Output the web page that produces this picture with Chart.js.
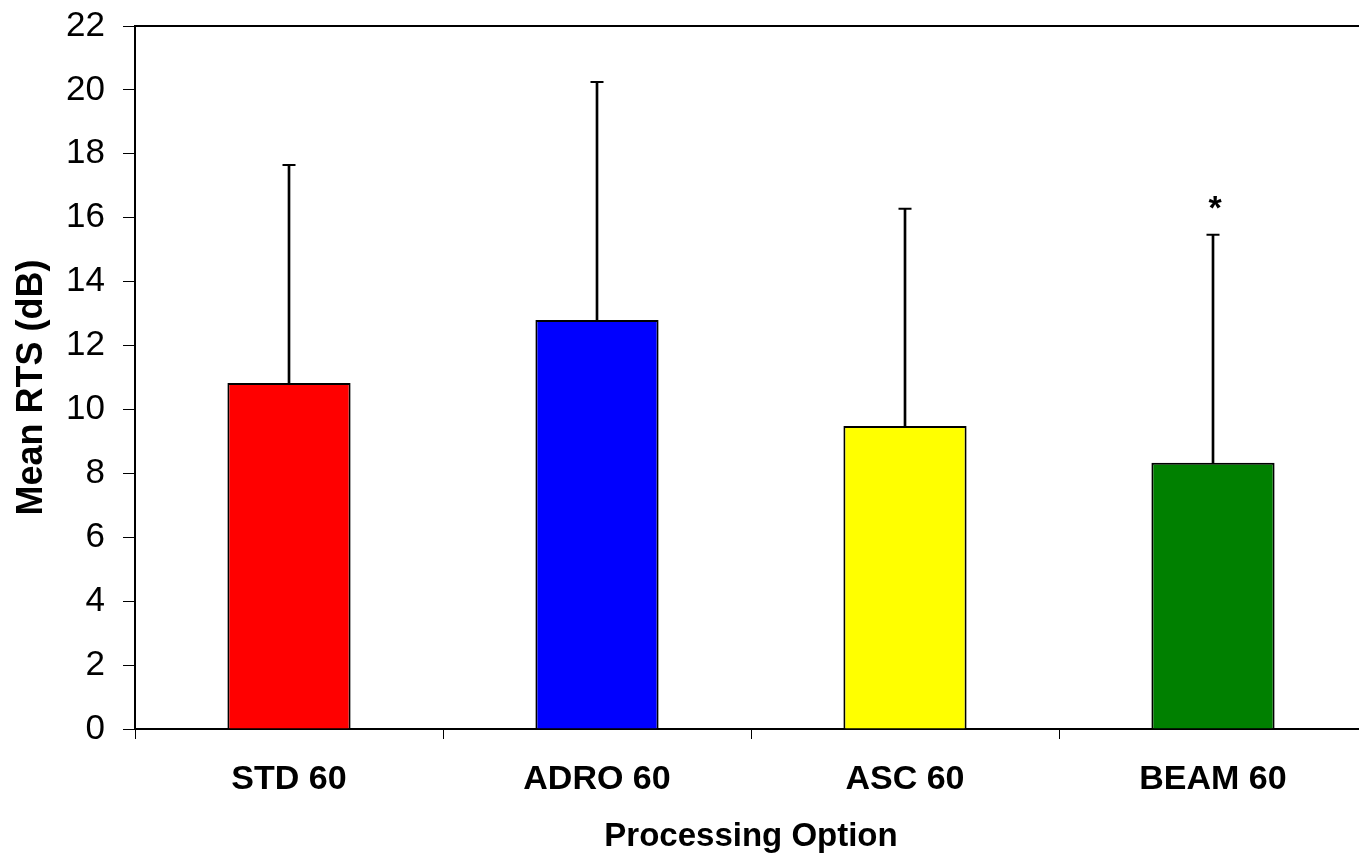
<!DOCTYPE html>
<html>
<head>
<meta charset="utf-8">
<script src="https://cdn.jsdelivr.net/npm/chart.js@4.4.1/dist/chart.umd.min.js"></script>
<style>
  html, body { margin: 0; padding: 0; background: #fff; overflow: hidden; }
  #wrap { position: relative; width: 1380px; height: 854px; }
</style>
</head>
<body>
<div id="wrap"><canvas id="c"></canvas></div>
<script>
const categories = ['STD 60', 'ADRO 60', 'ASC 60', 'BEAM 60'];
const meanRTS = [10.83, 12.80, 9.48, 8.33];
const sdRTS = [6.82, 7.45, 6.80, 7.14];
const barColors = ['#FF0000', '#0000FF', '#FFFF00', '#008000'];
const significant = ['', '', '', '*'];
const yTicks = { min: 0, max: 22, step: 2 };

const errRanges = meanRTS.map((m, i) => [m, m + sdRTS[i]]);
const errTops = meanRTS.map((m, i) => m + sdRTS[i]);

const FONT = "'Liberation Sans', Arial, sans-serif";

const framePlugin = {
  id: 'frame',
  afterDraw(chart) {
    const { ctx, chartArea, scales } = chart;
    ctx.save();
    ctx.strokeStyle = '#000';
    ctx.lineWidth = 2;
    ctx.beginPath();
    ctx.moveTo(chartArea.left - 1, chartArea.top);
    ctx.lineTo(chart.width, chartArea.top);
    ctx.stroke();
    ctx.fillStyle = '#000';
    ctx.font = "bold 34px " + FONT;
    ctx.textAlign = 'center';
    ctx.textBaseline = 'bottom';
    significant.forEach((s, i) => {
      if (!s) return;
      const x = scales.x.getPixelForValue(i);
      const y = scales.y.getPixelForValue(errTops[i]);
      ctx.fillText(s, x + 2, y - 8);
    });
    ctx.restore();
  }
};

new Chart(document.getElementById('c'), {
  data: {
    labels: categories,
    datasets: [
      {
        type: 'bar',
        data: errRanges,
        backgroundColor: '#000',
        borderWidth: 0,
        barThickness: 2,
        grouped: false,
        order: 3
      },
      {
        type: 'line',
        data: errTops,
        showLine: false,
        pointStyle: 'line',
        pointRadius: 6.5,
        pointBorderColor: '#000',
        pointBorderWidth: 2,
        pointHoverRadius: 6.5,
        order: 2
      },
      {
        type: 'bar',
        data: meanRTS,
        backgroundColor: barColors,
        borderColor: '#000',
        borderWidth: 2,
        borderSkipped: 'start',
        barPercentage: 0.4,
        categoryPercentage: 1.0,
        grouped: false,
        order: 1
      }
    ]
  },
  options: {
    responsive: true,
    maintainAspectRatio: false,
    animation: false,
    events: [],
    layout: { padding: { top: 26, right: 13, left: 0, bottom: 0 } },
    plugins: { legend: { display: false }, tooltip: { enabled: false } },
    scales: {
      x: {
        type: 'category',
        offset: true,
        afterFit(s) { s.height = 125; s.paddingLeft = 0; s.paddingRight = 0; },
        grid: { offset: true, drawOnChartArea: false, drawTicks: true, tickLength: 10, color: '#000', lineWidth: 1 },
        border: { display: true, color: '#000', width: 2 },
        ticks: { color: '#000', font: { family: FONT, size: 34, weight: 'bold' }, padding: 20, maxRotation: 0 },
        title: { display: true, text: 'Processing Option', color: '#000', font: { family: FONT, size: 33, weight: 'bold' }, padding: { top: 0, bottom: -3 } }
      },
      y: {
        min: yTicks.min,
        max: yTicks.max,
        afterFit(s) { s.width = 135; s.paddingTop = 0; s.paddingBottom = 0; },
        grid: { drawOnChartArea: false, drawTicks: true, tickLength: 12, color: '#000', lineWidth: 1 },
        border: { display: true, color: '#000', width: 2 },
        ticks: { stepSize: yTicks.step, color: '#000', font: { family: FONT, size: 35 }, padding: 18 },
        title: { display: true, text: 'Mean RTS (dB)  ', color: '#000', font: { family: FONT, size: 36, weight: 'bold' }, padding: { top: 10, bottom: 0 } }
      }
    }
  },
  plugins: [framePlugin]
});
</script>
</body>
</html>
